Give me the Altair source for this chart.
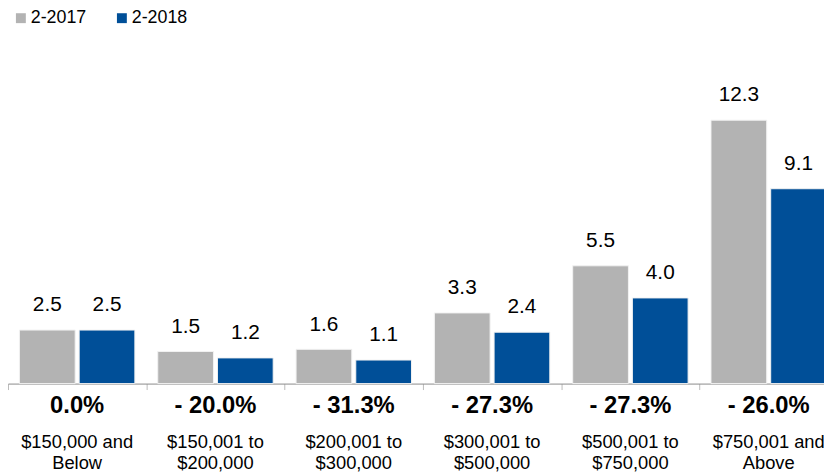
import altair as alt
import pandas as pd

categories = ["$150,000 and\nBelow", "$150,001 to\n$200,000", "$200,001 to\n$300,000",
              "$300,001 to\n$500,000", "$500,001 to\n$750,000", "$750,001 and\nAbove"]
series = ["2-2017", "2-2018"]
values_2017 = [2.5, 1.5, 1.6, 3.3, 5.5, 12.3]
values_2018 = [2.5, 1.2, 1.1, 2.4, 4.0, 9.1]
pct_labels = ["0.0%", "- 20.0%", "- 31.3%", "- 27.3%", "- 27.3%", "- 26.0%"]

rows = []
for c, a, b in zip(categories, values_2017, values_2018):
    rows.append({"cat": c, "series": series[0], "value": a, "label": f"{a:.1f}"})
    rows.append({"cat": c, "series": series[1], "value": b, "label": f"{b:.1f}"})
df = pd.DataFrame(rows)
df_cat = pd.DataFrame({"cat": categories, "pct": pct_labels})

W = 822
H = 346
FONT = "Liberation Sans"

xscale = alt.Scale(domain=categories, range=[0, 838], paddingInner=0, paddingOuter=0, round=False)
xoff = alt.Scale(domain=series, paddingInner=0.0667, paddingOuter=0.1917)
x_enc = alt.X("cat:N", scale=xscale, sort=categories,
              axis=alt.Axis(labels=False, title=None, tickBand="extent", domainColor="#8a8a8a",
                            tickColor="#bbbbbb", tickSize=6, grid=False, domainWidth=1))
y_enc = alt.Y("value:Q", scale=alt.Scale(domain=[0, 16]), axis=None)
color = alt.Color("series:N", scale=alt.Scale(domain=series, range=["#b3b3b3", "#004f98"]),
                  legend=alt.Legend(title=None, orient="none", legendX=4, legendY=-32,
                                    direction="horizontal", columns=2, symbolType="square",
                                    symbolSize=100, symbolStrokeWidth=0, labelFont=FONT,
                                    labelFontSize=18, labelColor="#000000", labelOffset=1,
                                    columnPadding=26))

bars = alt.Chart(df).mark_bar(stroke="#f2f2f2", strokeWidth=1).encode(
    x=x_enc, xOffset=alt.XOffset("series:N", scale=xoff, sort=series), y=y_enc, color=color)

vals = alt.Chart(df).mark_text(font=FONT, fontSize=21, baseline="middle", dy=-25, color="#000000").encode(
    x=alt.X("cat:N", scale=xscale, sort=categories),
    xOffset=alt.XOffset("series:N", scale=xoff, sort=series), y=y_enc, text="label:N")

pct = alt.Chart(df_cat).mark_text(font=FONT, fontSize=24, fontWeight="bold", baseline="middle",
                                  color="#000000").encode(
    x=alt.X("cat:N", scale=xscale, sort=categories), y=alt.value(H + 23), text="pct:N")

cats = alt.Chart(df_cat).mark_text(font=FONT, fontSize=18.5, baseline="middle", lineBreak="\n",
                                   lineHeight=21, color="#000000").encode(
    x=alt.X("cat:N", scale=xscale, sort=categories), y=alt.value(H + 59), text="cat:N")

chart = alt.layer(bars, vals, pct, cats).properties(
    width=W, height=H,
    autosize=alt.AutoSizeParams(type="none"),
    padding={"left": 0, "top": 31, "right": 2, "bottom": 88},
).configure(background="#ffffff").configure_view(stroke=None, strokeWidth=0)

chart.save("out.html", embed_options={"renderer": "svg", "actions": False})
